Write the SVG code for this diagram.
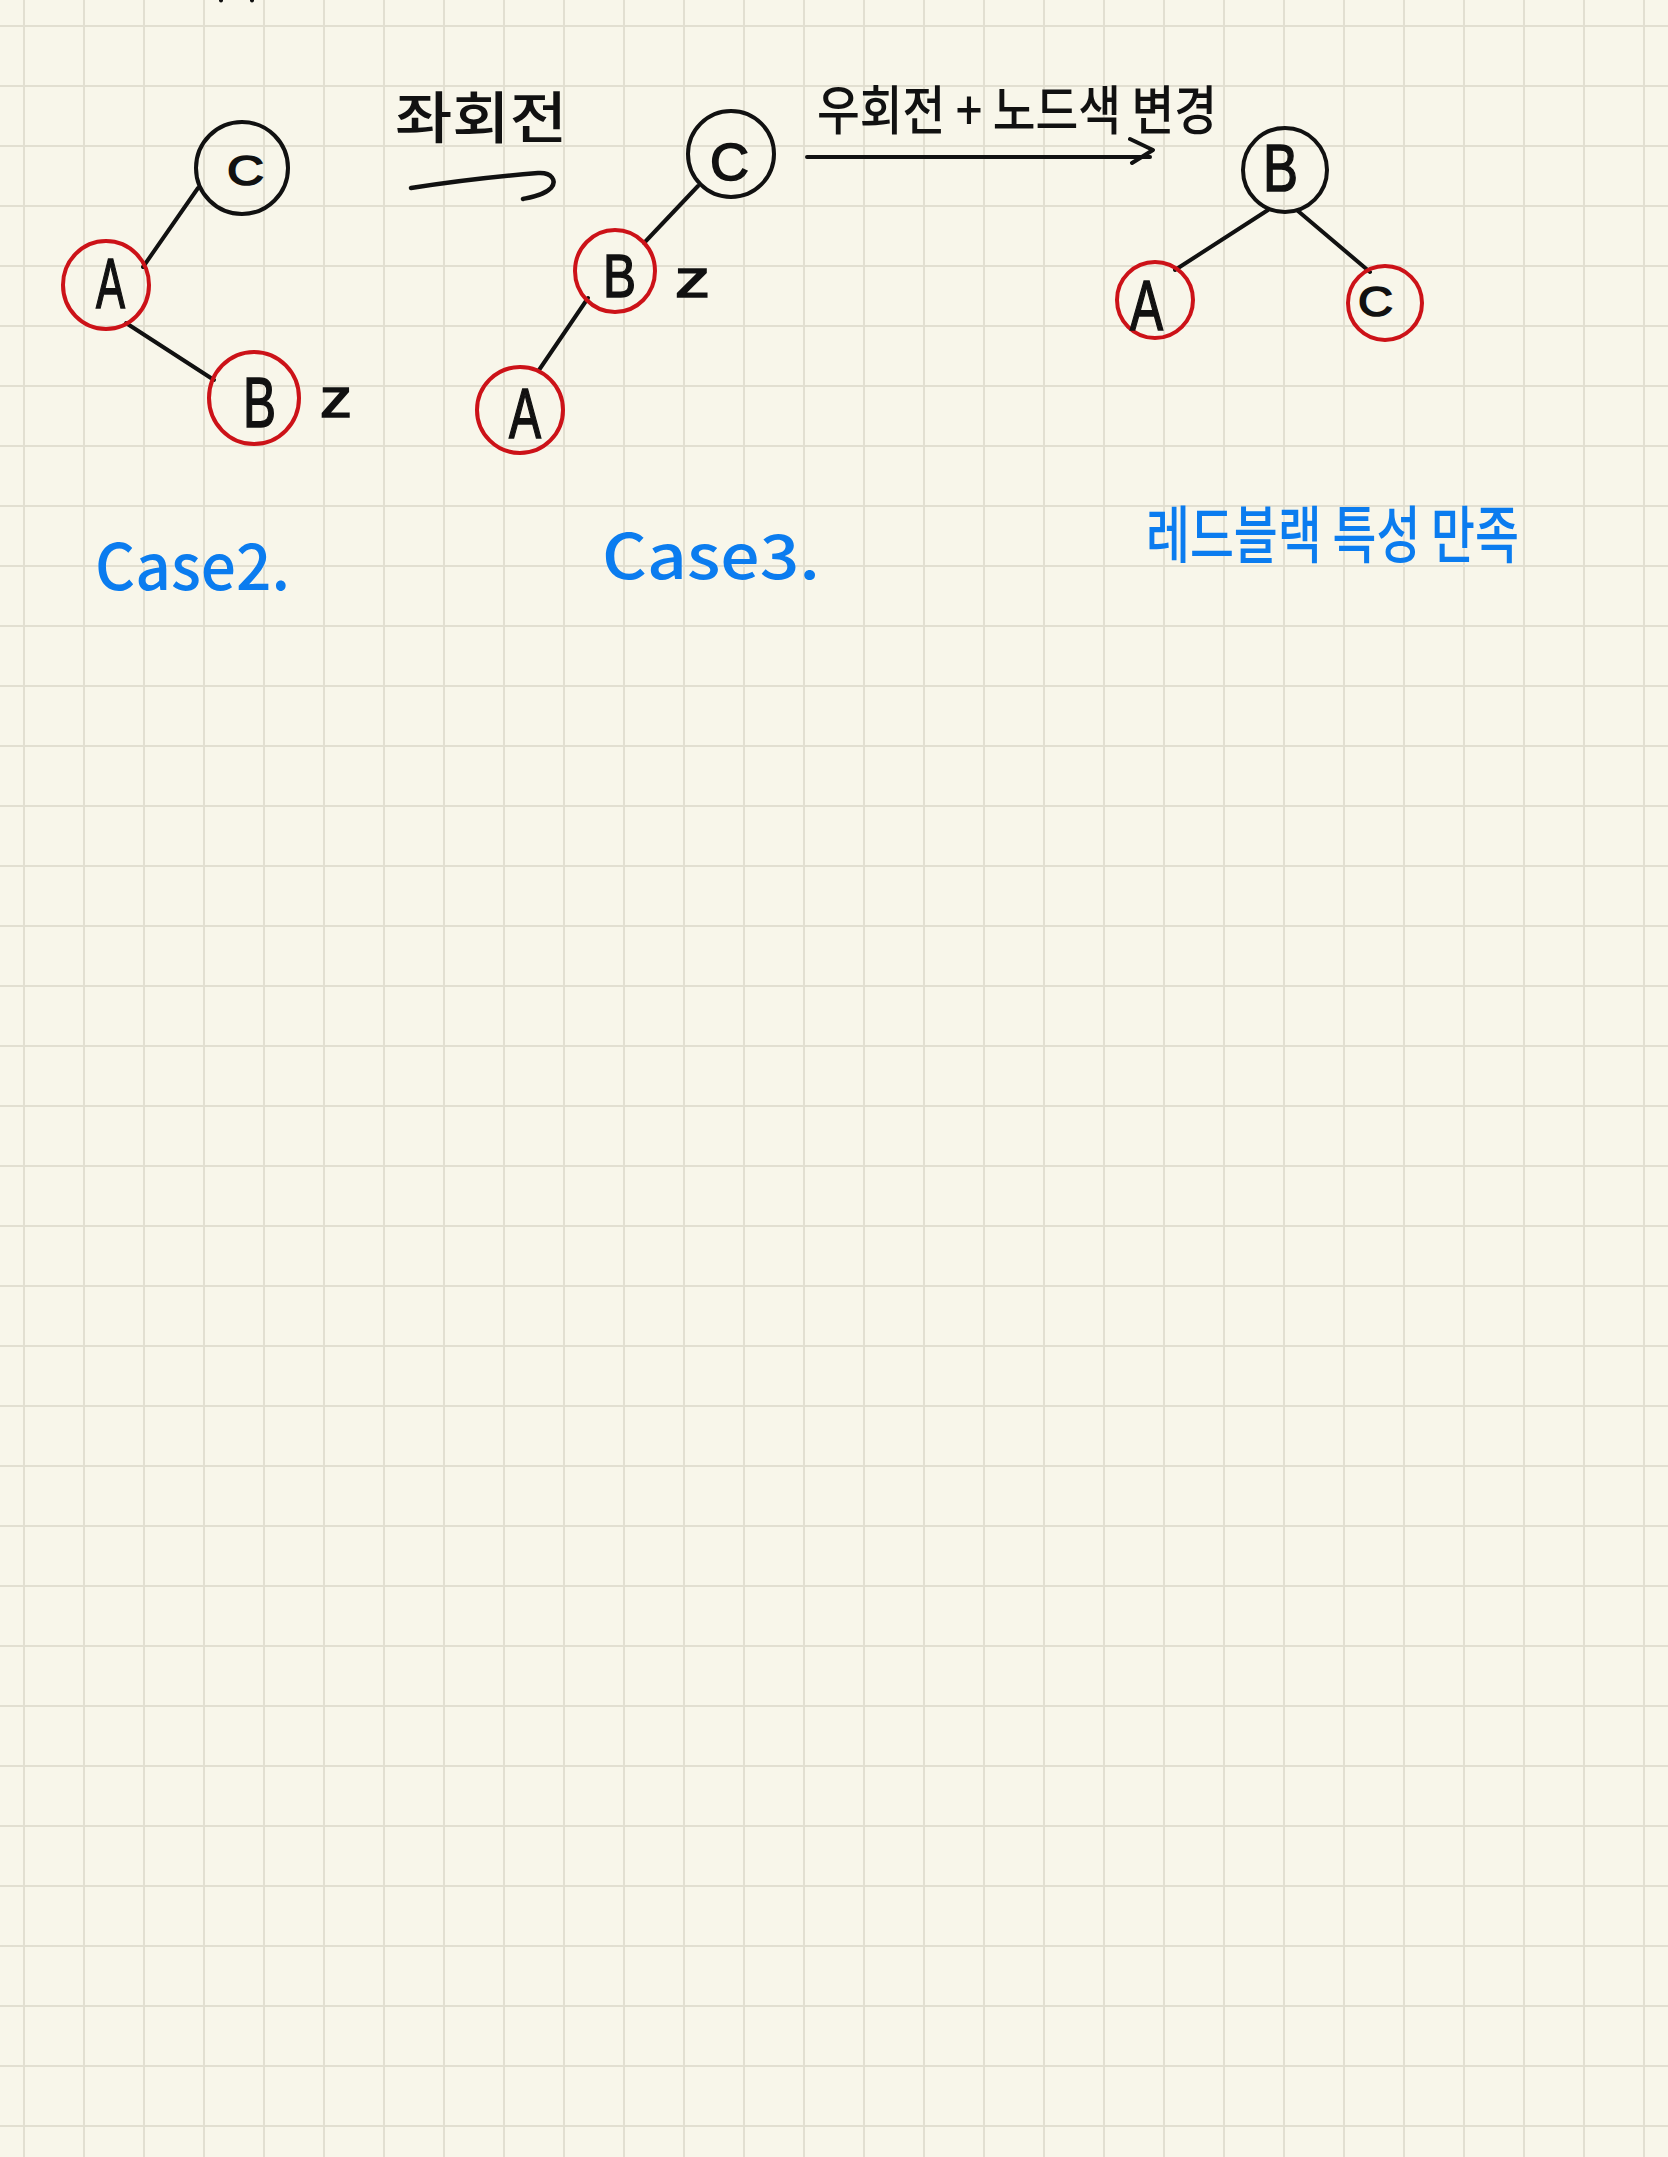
<svg xmlns="http://www.w3.org/2000/svg" width="1668" height="2157" viewBox="0 0 1668 2157">
<defs>
<pattern id="grid" x="23" y="25" width="60" height="60" patternUnits="userSpaceOnUse">
<rect x="0" y="0" width="2" height="60" fill="#e2dfd1"/>
<rect x="0" y="0" width="60" height="2" fill="#e2dfd1"/>
</pattern>
</defs>
<style>
.bg{fill:#f8f6ea}
.nb{fill:none;stroke:#111;stroke-width:4}
.nr{fill:none;stroke:#cc1218;stroke-width:4}
.edge{stroke:#111;stroke-width:4;stroke-linecap:round;stroke-linejoin:round;fill:none}
.lbl{font-family:"Liberation Sans","DejaVu Sans",sans-serif;fill:#111;stroke:#111;stroke-width:1.6}
.kr{font-family:"Noto Sans CJK KR","Noto Sans",sans-serif;fill:#111;font-weight:500}
.blue{font-family:"Noto Sans CJK KR","Liberation Sans",sans-serif;fill:#0b7cef;font-weight:500}
</style>
<rect class="bg" x="0" y="0" width="1668" height="2157"/>
<rect fill="url(#grid)" x="0" y="0" width="1668" height="2157"/>
<g id="top-marks" fill="#111">
<circle cx="221" cy="0.5" r="2"/>
<circle cx="252" cy="0.5" r="2"/>
</g>
<g id="connectors">
<line class="edge" x1="198" y1="188" x2="143" y2="267"/>
<line class="edge" x1="126" y1="323" x2="214" y2="380"/>
<line class="edge" x1="698" y1="186" x2="644" y2="243"/>
<line class="edge" x1="588" y1="298" x2="539" y2="370"/>
<line class="edge" x1="1268" y1="210" x2="1175" y2="270"/>
<line class="edge" x1="1298" y1="211" x2="1370" y2="272"/>
<path class="edge" style="stroke-width:4.5" d="M411,188 C455,181 500,176 538,173 C552,172 557,181 551,188 C544,195 532,197 523,199"/>
<path class="edge" d="M807,157 H1150 M1130,139 L1153,150 L1132,163"/>
</g>
<g id="case2-C"><ellipse class="nb" cx="242" cy="168" rx="46" ry="46"/><text class="lbl" x="227" y="185" font-size="42" textLength="37" lengthAdjust="spacingAndGlyphs">C</text></g>
<g id="case2-A"><ellipse class="nr" cx="106" cy="285" rx="43" ry="44"/><text class="lbl" x="96" y="308" font-size="70" textLength="29" lengthAdjust="spacingAndGlyphs">A</text></g>
<g id="case2-B"><ellipse class="nr" cx="254" cy="398" rx="45" ry="46"/><text class="lbl" x="243" y="427" font-size="70" textLength="33" lengthAdjust="spacingAndGlyphs">B</text></g>
<g id="case2-z"><text class="lbl" x="320" y="417" font-size="56" textLength="32" lengthAdjust="spacingAndGlyphs">z</text></g>
<g id="case3-C"><ellipse class="nb" cx="731" cy="154" rx="43" ry="43"/><text class="lbl" x="710" y="180" font-size="52" textLength="39" lengthAdjust="spacingAndGlyphs">C</text></g>
<g id="case3-B"><ellipse class="nr" cx="615" cy="271" rx="40" ry="41"/><text class="lbl" x="603" y="297" font-size="62" textLength="33" lengthAdjust="spacingAndGlyphs">B</text></g>
<g id="case3-A"><ellipse class="nr" cx="520" cy="410" rx="43" ry="43"/><text class="lbl" x="509" y="438" font-size="71" textLength="32" lengthAdjust="spacingAndGlyphs">A</text></g>
<g id="case3-z"><text class="lbl" x="675" y="297" font-size="54" textLength="35" lengthAdjust="spacingAndGlyphs">z</text></g>
<g id="res-B"><ellipse class="nb" cx="1285" cy="170" rx="42" ry="42"/><text class="lbl" x="1263" y="191" font-size="67" textLength="35" lengthAdjust="spacingAndGlyphs">B</text></g>
<g id="res-A"><ellipse class="nr" cx="1155" cy="300" rx="38" ry="38"/><text class="lbl" x="1130" y="330" font-size="70" textLength="33" lengthAdjust="spacingAndGlyphs">A</text></g>
<g id="res-C"><ellipse class="nr" cx="1385" cy="303" rx="37" ry="37"/><text class="lbl" x="1358" y="316" font-size="42" textLength="35" lengthAdjust="spacingAndGlyphs">C</text></g>
<g id="label-left-rotate"><text class="kr" x="395" y="138" font-size="56" textLength="172" lengthAdjust="spacingAndGlyphs">좌회전</text></g>
<g id="label-right-rotate"><text class="kr" x="817" y="130" font-size="53" textLength="400" lengthAdjust="spacingAndGlyphs">우회전 + 노드색 변경</text></g>
<g id="label-case2"><text class="blue" x="95" y="590" font-size="64" textLength="195" lengthAdjust="spacingAndGlyphs">Case2.</text></g>
<g id="label-case3"><text class="blue" x="602" y="579" font-size="62" textLength="218" lengthAdjust="spacingAndGlyphs">Case3.</text></g>
<g id="label-rb"><text class="blue" x="1146" y="558" font-size="62" textLength="373" lengthAdjust="spacingAndGlyphs">레드블랙 특성 만족</text></g>
</svg>
